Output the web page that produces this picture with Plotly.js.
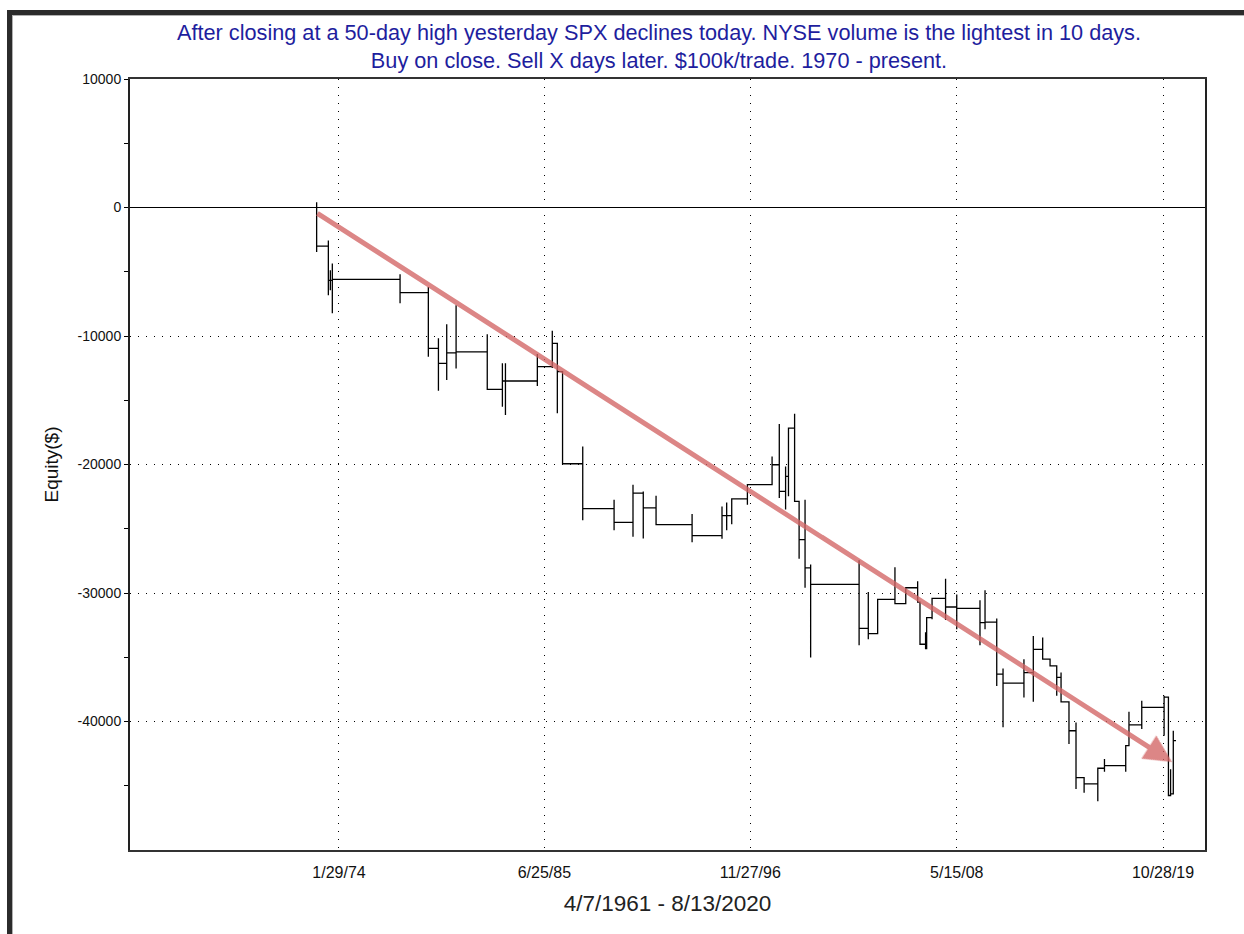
<!DOCTYPE html>
<html><head><meta charset="utf-8">
<script src="https://cdn.plot.ly/plotly-3.0.1.min.js"></script>
<style>html,body{margin:0;padding:0;background:#fff;overflow:hidden}#chart{width:1244px;height:934px}</style>
</head><body><div id="chart"></div>
<script>
// Trade dates (decimal years) and equity ($)
const tradeYear = [
1972.84,1972.84,1972.84,1972.84,
1973.49,1973.49,1973.49,
1973.60,1973.60,1973.60,
1973.71,1973.71,1973.71,
1977.47,1977.47,1977.47,
1979.04,1979.04,1979.04,
1979.60,1979.60,1979.60,1979.60,1979.60,
1980.06,1980.06,1980.06,
1980.58,1980.58,1980.58,
1982.31,1982.31,
1983.15,1983.15,1983.15,
1983.32,1983.32,1983.32,
1985.09,1985.09,1985.09,1985.09,1985.09,
1985.92,1985.92,1985.92,
1986.20,1986.20,
1986.49,1986.49,1986.49,1986.49,
1987.61,1987.61,1987.61,
1989.35,1989.35,1989.35,
1990.40,1990.40,1990.40,1990.40,
1990.97,1990.97,1990.97,
1991.68,1991.68,
1993.68,1993.68,1993.68,
1995.34,1995.34,1995.34,
1995.60,1995.60,1995.60,
1995.88,1995.88,1995.88,
1996.75,1996.75,1996.75,
1998.12,1998.12,1998.12,
1998.52,1998.52,1998.52,
1998.87,1998.87,1998.87,
1999.03,1999.03,1999.03,
1999.37,1999.37,
1999.62,1999.62,
1999.95,1999.95,1999.95,
2000.26,2000.26,2000.26,
2002.95,2002.95,2002.95,
2003.46,2003.46,2003.46,
2003.98,
2004.94,2004.94,2004.94,2004.94,
2005.54,
2006.20,2006.20,
2006.33,
2006.64,2006.64,2006.64,
2006.70,2006.70,
2007.00,2007.00,2007.00,
2007.75,2007.75,2007.75,
2008.37,2008.37,2008.37,2008.37,2008.37,
2009.66,2009.66,2009.66,
2009.94,2009.94,2009.94,
2010.59,2010.59,2010.59,
2010.94,2010.94,2010.94,2010.94,2010.94,
2012.10,2012.10,2012.10,2012.10,
2012.62,2012.62,2012.62,
2013.14,2013.14,
2013.55,
2013.92,2013.92,
2014.16,2014.16,
2014.60,2014.60,2014.60,2014.60,
2014.99,2014.99,2014.99,2014.99,2014.99,
2015.44,2015.44,
2016.20,2016.20,2016.20,
2016.57,2016.57,2016.57,
2017.75,2017.75,2017.75,
2017.93,2017.93,2017.93,
2018.64,2018.64,2018.64,
2019.88,2019.88,2019.88,2019.88,2019.88,
2020.12,
2020.24,2020.24,
2020.39,2020.39,
2020.54
];
const equity = [
0,410,-3470,-3000,
-2560,-6830,-5670,
-4890,-6440,-5670,
-4350,-8230,-5590,
-5200,-7450,-6620,
-6190,-11620,-10970,
-10170,-11870,-10710,-14260,-12130,
-9080,-13430,-11310,
-7610,-12520,-11230,
-9860,-14150,
-12130,-15500,-13500,
-12130,-16140,-13500,
-11410,-13890,-11870,-13110,-12390,
-9600,-12490,-10580,
-16010,-12780,
-15990,-17850,-16920,-19940,
-18600,-24340,-23440,
-22740,-25120,-24500,
-21570,-25630,-24680,-22220,
-25760,-22100,-23380,
-22430,-24680,
-23850,-26050,-25530,
-23260,-25780,-23980,
-22950,-25120,-23980,
-22680,-24650,-22680,
-21520,-23130,-21570,
-19380,-20800,-20020,
-16840,-22610,-22090,
-20150,-23510,-20930,
-17170,-22480,-17170,
-16060,-22870,
-27340,-25840,
-22740,-29590,-28040,
-27780,-35020,-29330,
-27450,-34070,-32750,
-29930,-33600,-33160,
-30500,
-27990,-30830,-28950,-30830,
-29590,
-29080,-30710,
-33990,
-33060,-34380,-33600,
-34380,-31920,
-30890,-32050,-30420,
-28890,-32100,-31090,
-30110,-32830,-30500,-32440,-31200,
-30570,-34070,-32310,
-29780,-32830,-32260,
-31990,-37230,-36320,
-35870,-40450,-38260,-39810,-37020,
-35150,-38130,-35540,-36190,
-33340,-38470,-34380,
-33470,-35150,
-35670,
-38000,-36570,
-36190,-38470,
-41750,-40200,-41360,-40720,
-40070,-45260,-43710,-44950,-44360,
-45550,-44850,
-43640,-46200,-43640,
-42910,-43920,-43430,
-42660,-43920,-41880,
-39240,-41880,-40270,
-38390,-40590,-38900,
-38000,-41110,-38260,-40590,-38100,
-45760,
-43710,-45630,
-40720,-41490,
-41490
];
const tickYears = [1974.08, 1985.48, 1996.91, 2008.37, 2019.82];
const tickLabels = ['1/29/74', '6/25/85', '11/27/96', '5/15/08', '10/28/19'];
const yTickVals = [10000, 0, -10000, -20000, -30000, -40000];
const yTickLabels = ['10000', '0', '-10000', '-20000', '-30000', '-40000'];
const yMinorVals = [5000, -5000, -15000, -25000, -35000, -45000];
const trendFrom = [1972.80, -390];
const trendTo = [2020.32, -43150];

const W = 1244, H = 934, ML = 130, MR = 39, MT = 79, MB = 84;
const PW = W - ML - MR, PH = H - MT - MB;
const px = v => (v - ML) / PW;
const py = v => (H - MB - v) / PH;
const rect = (x0, y0, x1, y1, c) => ({type: 'rect', xref: 'paper', yref: 'paper',
  x0: px(x0), x1: px(x1), y0: py(y1), y1: py(y0), fillcolor: c, line: {width: 0}, layer: 'above'});

const FONT = '"Liberation Sans", Arial, sans-serif';

const trace = {
  x: tradeYear, y: equity, type: 'scatter', mode: 'lines',
  line: {color: '#000', width: 1.3, shape: 'hv'}, hoverinfo: 'x+y'
};

const layout = {
  width: W, height: H,
  margin: {l: ML, r: MR, t: MT, b: MB, pad: 0},
  paper_bgcolor: '#fff', plot_bgcolor: '#fff',
  showlegend: false,
  title: {
    text: 'After closing at a 50-day high yesterday SPX declines today. NYSE volume is the lightest in 10 days.<br>Buy on close. Sell X days later. $100k/trade. 1970 - present.',
    font: {family: FONT, size: 21.7, color: '#1e1e9e'},
    xref: 'paper', x: px(659), xanchor: 'center',
    yref: 'container', y: 1 - 40 / H, yanchor: 'top'
  },
  xaxis: {
    range: [1962.48, 2022.15], autorange: false,
    tickmode: 'array', tickvals: tickYears, ticktext: tickLabels,
    tickfont: {family: FONT, size: 16, color: '#111'},
    ticks: '', ticklabelstandoff: 7,
    showgrid: true, gridcolor: '#000', gridwidth: 1, griddash: '1px,7px',
    showline: true, linecolor: '#333', linewidth: 2, mirror: true,
    zeroline: false,
    title: {text: '4/7/1961 - 8/13/2020', font: {family: FONT, size: 22.5, color: '#222'}, standoff: 15}
  },
  yaxis: {
    range: [-50000, 10000], autorange: false,
    tickmode: 'array', tickvals: yTickVals, ticktext: yTickLabels,
    tickfont: {family: FONT, size: 14, color: '#111'},
    ticks: 'outside', ticklen: 4, tickcolor: '#000', tickwidth: 1,
    minor: {tickmode: 'array', tickvals: yMinorVals, ticks: 'outside', ticklen: 4, tickcolor: '#000', showgrid: false},
    showgrid: true, gridcolor: '#000', gridwidth: 1, griddash: '1px,7px',
    zeroline: true, zerolinecolor: '#000', zerolinewidth: 1,
    showline: true, linecolor: '#222', linewidth: 2, mirror: true,
    title: {text: 'Equity($)', font: {family: FONT, size: 19, color: '#111'}, standoff: 14}
  },
  shapes: [
    rect(7, 10, W, 15, '#2b2b2b'),
    rect(7, 15, W, 16, '#b0b0b0'),
    rect(7, 10, 12, H, '#2b2b2b'),
    rect(12, 15, 13, H, '#b0b0b0')
  ],
  annotations: [{
    x: trendTo[0], y: trendTo[1], xref: 'x', yref: 'y',
    ax: trendFrom[0], ay: trendFrom[1], axref: 'x', ayref: 'y',
    text: '', showarrow: true, arrowhead: 2, arrowsize: 1.1, arrowwidth: 5,
    arrowcolor: 'rgba(210,100,100,0.78)', standoff: 0
  }]
};

Plotly.newPlot('chart', [trace], layout, {displayModeBar: false, staticPlot: true});
</script></body></html>
